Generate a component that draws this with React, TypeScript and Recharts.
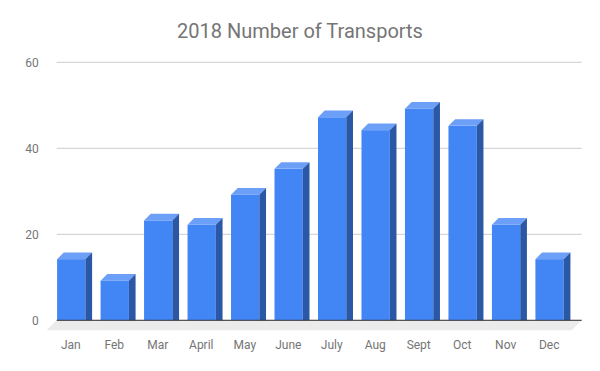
import React from "react"
import { Bar, BarChart, CartesianGrid, ReferenceLine, XAxis, YAxis } from "recharts"

// 2018 monthly transports
const months = ["Jan", "Feb", "Mar", "April", "May", "June", "July", "Aug", "Sept", "Oct", "Nov", "Dec"]
const transports = [15, 10, 24, 23, 30, 36, 48, 45, 50, 46, 23, 15]
const yTicks = [0, 20, 40, 60]

const data = months.map((month, i) => ({ month, transports: transports[i] }))

const FRONT = "#4285f4"
const SIDE = "#2b58a6"
const TOP = "#6c9ff7"
const TEXT = "#757575"
const DEPTH = 6.7

// 3d-looking bar: front face, lighter top, darker right side
function Bar3D(props: any) {
  const { x, y, width, height } = props
  if (x == null || y == null) return null
  const d = DEPTH / 2
  const base = y + height
  const w = width
  return (
    <g>
      <rect x={x} y={y + d} width={w} height={base + DEPTH - (y + d)} fill={FRONT} />
      <polygon
        points={`${x},${y + d} ${x + DEPTH},${y - d} ${x + w + DEPTH},${y - d} ${x + w},${y + d}`}
        fill={TOP}
      />
      <polygon
        points={`${x + w},${y + d} ${x + w + DEPTH},${y - d} ${x + w + DEPTH},${base} ${x + w},${base + DEPTH}`}
        fill={SIDE}
      />
    </g>
  )
}

// floor under the bars plus the dark zero line
function Floor(props: any) {
  const { x1, x2, y1 } = props
  if (x1 == null) return null
  const f = 10
  return (
    <g>
      <polygon points={`${x1},${y1} ${x2},${y1} ${x2 - f},${y1 + f} ${x1 - f},${y1 + f}`} fill="#ebebeb" />
      <line x1={x1} y1={y1} x2={x2} y2={y1} stroke="#333333" strokeWidth={1} />
    </g>
  )
}

export default function App() {
  return (
    <div style={{ position: "absolute", left: 0, top: 0, width: 600, height: 371, background: "#fff" }}>
      <svg width={600} height={371} style={{ position: "absolute", left: 0, top: 0, pointerEvents: "none" }}>
        <text x={300} y={38} textAnchor="middle" fontFamily="Roboto" fontSize={20} fill={TEXT}>
          2018 Number of Transports
        </text>
      </svg>
      <BarChart
        width={600}
        height={371}
        data={data}
        margin={{ top: 62.3, right: 18.3, left: 0, bottom: 20.7 }}
        style={{ fontFamily: "Roboto" }}
      >
        <CartesianGrid vertical={false} stroke="#cccccc" />
        <ReferenceLine y={0} shape={<Floor />} />
        <XAxis
          dataKey="month"
          axisLine={false}
          tickLine={false}
          tickSize={0}
          tickMargin={20}
          height={30}
          interval={0}
          padding={{ left: -7.6, right: 10.8 }}
          tick={{ fill: TEXT, fontSize: 12 }}
        />
        <YAxis
          domain={[0, 60]}
          ticks={yTicks}
          width={56.7}
          axisLine={false}
          tickLine={false}
          tickSize={0}
          tickMargin={18}
          tick={{ fill: TEXT, fontSize: 12 }}
        />
        <Bar dataKey="transports" barSize={28.3} shape={<Bar3D />} isAnimationActive={false} />
      </BarChart>
    </div>
  )
}
